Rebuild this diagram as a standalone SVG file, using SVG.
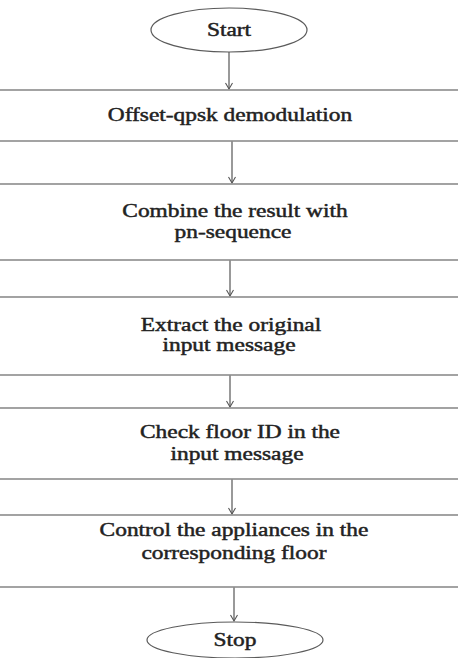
<svg xmlns="http://www.w3.org/2000/svg" width="458" height="658" viewBox="0 0 458 658">
<style>
.bg{fill:#ffffff}
.box{fill:#ffffff;stroke:#8c8c8c;stroke-width:1.6}
.term{fill:#ffffff;stroke:#5a5a5a;stroke-width:1.2}
.lbl{font-family:"Liberation Serif","Times New Roman",serif;font-size:18px;fill:#222222;stroke:#222222;stroke-width:0.45;text-anchor:middle}
.conn{stroke:#555555;stroke-width:1.2;fill:none}
</style>
<defs>
<marker id="arr" markerWidth="10" markerHeight="10" refX="7" refY="5" orient="auto" markerUnits="userSpaceOnUse">
<path d="M1,1.5 L7,5 L1,8.5" fill="none" stroke="#555555" stroke-width="1.1"/>
</marker>
</defs>
<rect class="bg" x="0" y="0" width="458" height="658"/>
<g id="connectors">
<line class="conn" x1="229" y1="52" x2="229" y2="89" marker-end="url(#arr)"/>
<line class="conn" x1="232" y1="141" x2="232" y2="183" marker-end="url(#arr)"/>
<line class="conn" x1="230" y1="260" x2="230" y2="296" marker-end="url(#arr)"/>
<line class="conn" x1="230" y1="375" x2="230" y2="407" marker-end="url(#arr)"/>
<line class="conn" x1="232" y1="479" x2="232" y2="514" marker-end="url(#arr)"/>
<line class="conn" x1="234" y1="587" x2="234" y2="621" marker-end="url(#arr)"/>
</g>
<g id="start">
<ellipse class="term" cx="229" cy="30" rx="78" ry="22"/>
<text class="lbl" transform="translate(229,36) scale(1.3,1)">Start</text>
</g>
<g id="step1">
<rect class="box" x="-5" y="90" width="468" height="51"/>
<text class="lbl" transform="translate(230,121) scale(1.3,1)">Offset-qpsk demodulation</text>
</g>
<g id="step2">
<rect class="box" x="-5" y="184" width="468" height="76"/>
<text class="lbl" transform="translate(235,217) scale(1.3,1)">Combine the result with</text>
<text class="lbl" transform="translate(233,238) scale(1.3,1)">pn-sequence</text>
</g>
<g id="step3">
<rect class="box" x="-5" y="297" width="468" height="78"/>
<text class="lbl" transform="translate(231,331) scale(1.3,1)">Extract the original</text>
<text class="lbl" transform="translate(229,351) scale(1.3,1)">input message</text>
</g>
<g id="step4">
<rect class="box" x="-5" y="408" width="468" height="71"/>
<text class="lbl" transform="translate(240,438) scale(1.3,1)">Check floor ID in the</text>
<text class="lbl" transform="translate(237,460) scale(1.3,1)">input message</text>
</g>
<g id="step5">
<rect class="box" x="-5" y="515" width="468" height="72"/>
<text class="lbl" transform="translate(234,536) scale(1.3,1)">Control the appliances in the</text>
<text class="lbl" transform="translate(234,559) scale(1.3,1)">corresponding floor</text>
</g>
<g id="stop">
<ellipse class="term" cx="235" cy="640" rx="88" ry="18"/>
<text class="lbl" transform="translate(235,646) scale(1.3,1)">Stop</text>
</g>
</svg>
